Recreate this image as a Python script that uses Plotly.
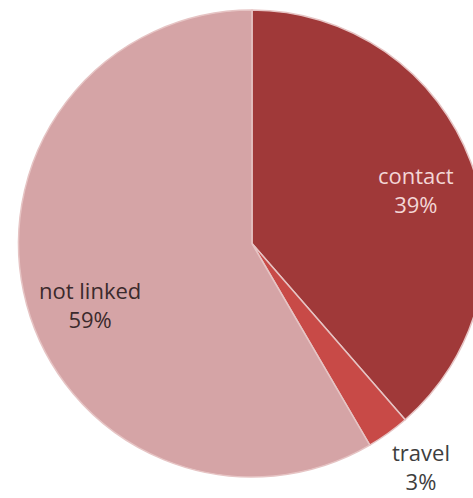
import plotly.graph_objects as go

labels = ["contact", "travel", "not linked"]
values = [39, 3, 59]
colors = ["#A03939", "#C84A47", "#D5A4A6"]
text_colors = ["#F3D6D6", "#3E3E3E", "#3B2A2C"]

W, H = 490, 498
cx, cy, R = 252, 243.5, 233.5

fig = go.Figure(go.Pie(
    labels=labels,
    values=values,
    sort=False,
    direction="clockwise",
    rotation=0,
    marker=dict(colors=colors, line=dict(color="#E6C4C4", width=1.5)),
    textinfo="none",
    hoverinfo="label+value",
    showlegend=False,
    domain=dict(x=[(cx - R) / W, (cx + R) / W],
                y=[(H - cy - R) / H, (H - cy + R) / H]),
))

# label positions (pixels) for each slice
label_pos = [(416, 189), (421, 466), (90, 304)]
for lab, val, col, (px, py) in zip(labels, values, text_colors, label_pos):
    fig.add_annotation(
        x=px / W, y=1 - py / H, xref="paper", yref="paper",
        text=f"{lab}<br>{val}%", showarrow=False,
        font=dict(family="Open Sans", size=22, color=col),
        xanchor="center", yanchor="middle", align="center",
    )

fig.update_layout(
    width=W, height=H,
    margin=dict(l=0, r=0, t=0, b=0),
    paper_bgcolor="white", plot_bgcolor="white",
)

fig.write_html("out.html", config={"displayModeBar": False},
               post_script="document.body.style.overflow='hidden';document.body.style.margin='0';")
